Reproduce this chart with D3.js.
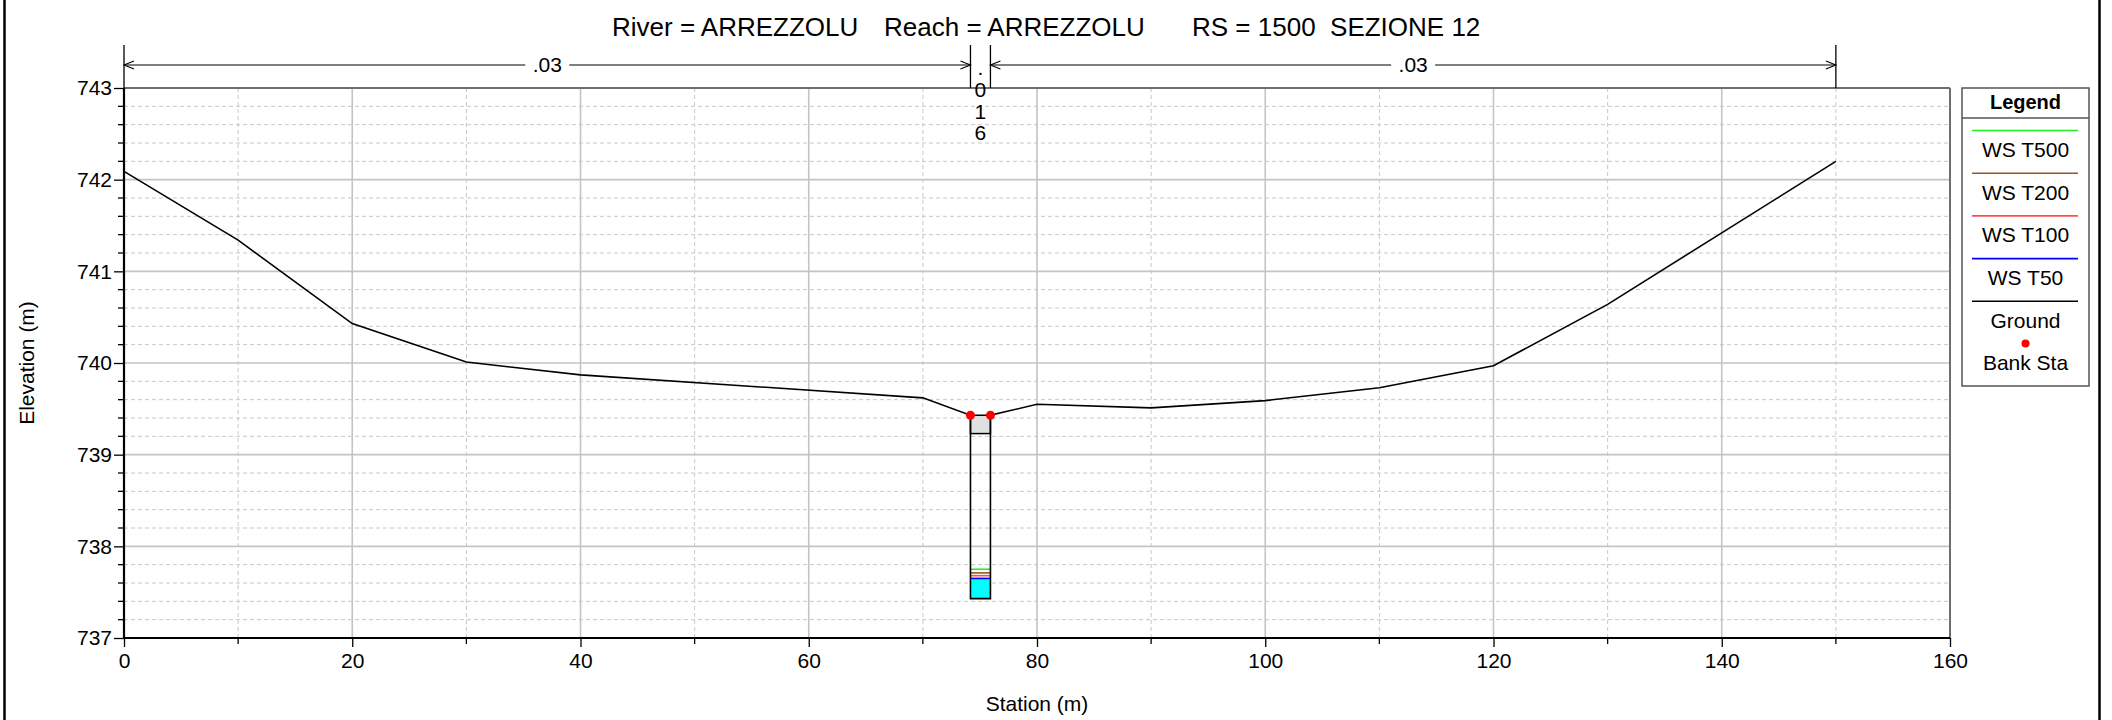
<!DOCTYPE html>
<html><head><meta charset="utf-8">
<script src="https://cdn.jsdelivr.net/npm/d3@7"></script>
<style>
html,body{margin:0;padding:0;background:#fff;}
svg{display:block;font-family:"Liberation Sans",Arial,sans-serif;}
text{white-space:pre;}
</style></head>
<body>
<svg id="chart" width="2112" height="720"></svg>
<script>
// ---- data ----
const titleParts = ["River = ARREZZOLU", "Reach = ARREZZOLU", "RS = 1500  SEZIONE 12"];
const groundStation = [0, 10, 20, 30, 40, 70, 74.17, 74.17, 75.92, 75.92, 80, 90, 100, 110, 120, 130, 140, 150];
const groundElev = [742.09, 741.34, 740.43, 740.01, 739.87, 739.62, 739.43, 737.43, 737.43, 739.43, 739.55, 739.51, 739.59, 739.73, 739.97, 740.64, 741.42, 742.20];
const bankStation = [74.17, 75.92];
const bankElev = [739.43, 739.43];
const lidStation = [74.17, 75.92];
const lidElev = [739.23, 739.43];
const wsNames = ["WS T500", "WS T200", "WS T100", "WS T50"];
const wsElev = [737.75, 737.71, 737.68, 737.65];
const wsColors = ["#22ee22", "#995522", "#ff4d4d", "#0000ff"];
const nStations = [0, 74.17, 75.92, 150];
const nValues = [".03", ".016", ".03"];
const xTicks = [0, 20, 40, 60, 80, 100, 120, 140, 160];
const yTicks = [737, 738, 739, 740, 741, 742, 743];

// ---- layout ----
const svg = d3.select("#chart");
const L = 124, R = 1950, T = 88, B = 638;
const x = d3.scaleLinear().domain([0, 160]).range([L, R]);
const y = d3.scaleLinear().domain([737, 743]).range([B, T]);

// outer frame (vertical edges only visible)
svg.append("line").attr("x1",4.5).attr("x2",4.5).attr("y1",0).attr("y2",720).attr("stroke","#000").attr("stroke-width",2.5);
svg.append("line").attr("x1",2099.5).attr("x2",2099.5).attr("y1",0).attr("y2",720).attr("stroke","#000").attr("stroke-width",2.5);

// title
const title = svg.append("text").attr("y", 36).attr("font-size", 26).attr("fill","#000");
const titleX = [612, 884, 1192];
titleParts.forEach((t,i)=> title.append("tspan").attr("x", titleX[i]).text(t));

// grid
const g = svg.append("g");
const xMinor = d3.range(10, 160, 20);
const yMinor = d3.range(737, 743.001, 0.2).filter(v => Math.abs(v - Math.round(v)) > 0.01);
g.selectAll(".xmin").data(xMinor).join("line")
  .attr("x1", d=>x(d)).attr("x2", d=>x(d)).attr("y1", T).attr("y2", B)
  .attr("stroke","#c8c8c8").attr("stroke-width",1).attr("stroke-dasharray","4,3");
g.selectAll(".ymin").data(yMinor).join("line")
  .attr("x1", L).attr("x2", R).attr("y1", d=>y(d)).attr("y2", d=>y(d))
  .attr("stroke","#c8c8c8").attr("stroke-width",1).attr("stroke-dasharray","4,3");
g.selectAll(".xmaj").data(xTicks.slice(1,-1)).join("line")
  .attr("x1", d=>x(d)).attr("x2", d=>x(d)).attr("y1", T).attr("y2", B)
  .attr("stroke","#c4c4c4").attr("stroke-width",1.6);
g.selectAll(".ymaj").data(yTicks.slice(1,-1)).join("line")
  .attr("x1", L).attr("x2", R).attr("y1", d=>y(d)).attr("y2", d=>y(d))
  .attr("stroke","#c4c4c4").attr("stroke-width",1.6);

// plot frame top/right
svg.append("line").attr("x1",L).attr("x2",R).attr("y1",T).attr("y2",T).attr("stroke","#6e6e6e").attr("stroke-width",2);
svg.append("line").attr("x1",R).attr("x2",R).attr("y1",T).attr("y2",B).attr("stroke","#6e6e6e").attr("stroke-width",2);

// axes
const xAxis = d3.axisBottom(x).tickValues(xTicks).tickSize(9).tickPadding(6).tickFormat(d3.format("d"));
const xa = svg.append("g").attr("transform",`translate(0,${B})`).call(xAxis);
const yAxis = d3.axisLeft(y).tickValues(yTicks).tickSize(10).tickPadding(2).tickFormat(d3.format("d"));
const ya = svg.append("g").attr("transform",`translate(${L},0)`).call(yAxis);
[xa, ya].forEach(a => {
  a.select(".domain").attr("stroke","#000").attr("stroke-width",2.2);
  a.selectAll(".tick line").attr("stroke","#000").attr("stroke-width",1.3);
  a.selectAll(".tick text").attr("font-size",21).attr("fill","#000").attr("font-family","Liberation Sans, Arial, sans-serif");
});
xa.select(".domain").attr("d", `M${L},0H${R}`);
ya.select(".domain").attr("d", `M0,${B}V${T}`);
// minor ticks
svg.append("g").selectAll("line").data(xMinor).join("line")
  .attr("x1", d=>x(d)).attr("x2", d=>x(d)).attr("y1", B).attr("y2", B+6).attr("stroke","#000").attr("stroke-width",1.3);
svg.append("g").selectAll("line").data(yMinor).join("line")
  .attr("x1", L-6).attr("x2", L).attr("y1", d=>y(d)).attr("y2", d=>y(d)).attr("stroke","#000").attr("stroke-width",1.3);

// axis titles
svg.append("text").attr("x", x(80)).attr("y", 711).attr("text-anchor","middle").attr("font-size",21).text("Station (m)");
svg.append("text").attr("transform",`translate(34,${(T+B)/2}) rotate(-90)`).attr("text-anchor","middle").attr("font-size",21).text("Elevation (m)");

// water fill (lowest profile)
const wsMin = d3.min(wsElev);
svg.append("rect").attr("x", x(bankStation[0])).attr("width", x(bankStation[1]) - x(bankStation[0]))
  .attr("y", y(wsMin)).attr("height", y(groundElev[7]) - y(wsMin)).attr("fill","#00ffff");

// water surface lines
wsElev.forEach((v,i) => {
  svg.append("line").attr("x1", x(bankStation[0])).attr("x2", x(bankStation[1]))
    .attr("y1", y(v)).attr("y2", y(v)).attr("stroke", wsColors[i]).attr("stroke-width",1.6);
});

// lid / deck
svg.append("rect").attr("x", x(lidStation[0])).attr("width", x(lidStation[1]) - x(lidStation[0]))
  .attr("y", y(lidElev[1])).attr("height", y(lidElev[0]) - y(lidElev[1]))
  .attr("fill","#e0e0e0").attr("stroke","#000").attr("stroke-width",1.5);

// ground
const line = d3.line().x(d=>x(d[0])).y(d=>y(d[1]));
svg.append("path").datum(groundStation.map((s,i)=>[s, groundElev[i]]))
  .attr("d", line).attr("fill","none").attr("stroke","#000").attr("stroke-width",1.6);

// bank stations
svg.append("g").selectAll("circle").data(bankStation).join("circle")
  .attr("cx", d=>x(d)).attr("cy", (d,i)=>y(bankElev[i])).attr("r",4.5).attr("fill","#ff0000");

// Manning's n annotation
const nTop = 45, nLineY = 65;
svg.append("g").selectAll("line").data(nStations).join("line")
  .attr("x1", d=>x(d)).attr("x2", d=>x(d)).attr("y1", nTop).attr("y2", T)
  .attr("stroke","#000").attr("stroke-width",1.3);
function chevron(px, dir){ // dir -1 points left, +1 points right
  svg.append("path").attr("d", `M${px - dir*10},${nLineY-4}L${px},${nLineY}L${px - dir*10},${nLineY+4}`)
    .attr("fill","none").attr("stroke","#000").attr("stroke-width",1.1);
}
nValues.forEach((v,i) => {
  const a = x(nStations[i]), b = x(nStations[i+1]), c = (a+b)/2;
  if (b - a > 60) {
    const half = 22;
    svg.append("line").attr("x1",a).attr("x2",c-half).attr("y1",nLineY).attr("y2",nLineY).attr("stroke","#000").attr("stroke-width",1.2);
    svg.append("line").attr("x1",c+half).attr("x2",b).attr("y1",nLineY).attr("y2",nLineY).attr("stroke","#000").attr("stroke-width",1.2);
    chevron(a, -1); chevron(b, 1);
    svg.append("text").attr("x", c).attr("y", nLineY+7).attr("text-anchor","middle").attr("font-size",21).text(v);
  } else {
    v.split("").forEach((ch,k) => {
      svg.append("text").attr("x", c).attr("y", 75 + k*21.8).attr("text-anchor","middle").attr("font-size",21).text(ch);
    });
  }
});

// legend
const lg = svg.append("g");
const lx0 = 1962, lx1 = 2089, ly0 = 88, ly1 = 386;
lg.append("rect").attr("x",lx0).attr("y",ly0).attr("width",lx1-lx0).attr("height",ly1-ly0)
  .attr("fill","#fff").attr("stroke","#555").attr("stroke-width",1.5);
lg.append("line").attr("x1",lx0).attr("x2",lx1).attr("y1",118).attr("y2",118).attr("stroke","#555").attr("stroke-width",1.5);
const lcx = (lx0+lx1)/2;
lg.append("text").attr("x",lcx).attr("y",109).attr("text-anchor","middle").attr("font-size",20).attr("font-weight","bold").text("Legend");
const legNames = wsNames.concat(["Ground"]);
const legColors = wsColors.concat(["#000"]);
legNames.forEach((n,i) => {
  const ly = 130.5 + i*42.7;
  lg.append("line").attr("x1",1972).attr("x2",2078).attr("y1",ly).attr("y2",ly).attr("stroke",legColors[i]).attr("stroke-width",1.6);
  lg.append("text").attr("x",lcx).attr("y",ly+26.5).attr("text-anchor","middle").attr("font-size",21).text(n);
});
lg.append("circle").attr("cx",lcx).attr("cy",343.5).attr("r",4).attr("fill","#ff0000");
lg.append("text").attr("x",lcx).attr("y",370).attr("text-anchor","middle").attr("font-size",21).text("Bank Sta");
</script>
</body></html>
